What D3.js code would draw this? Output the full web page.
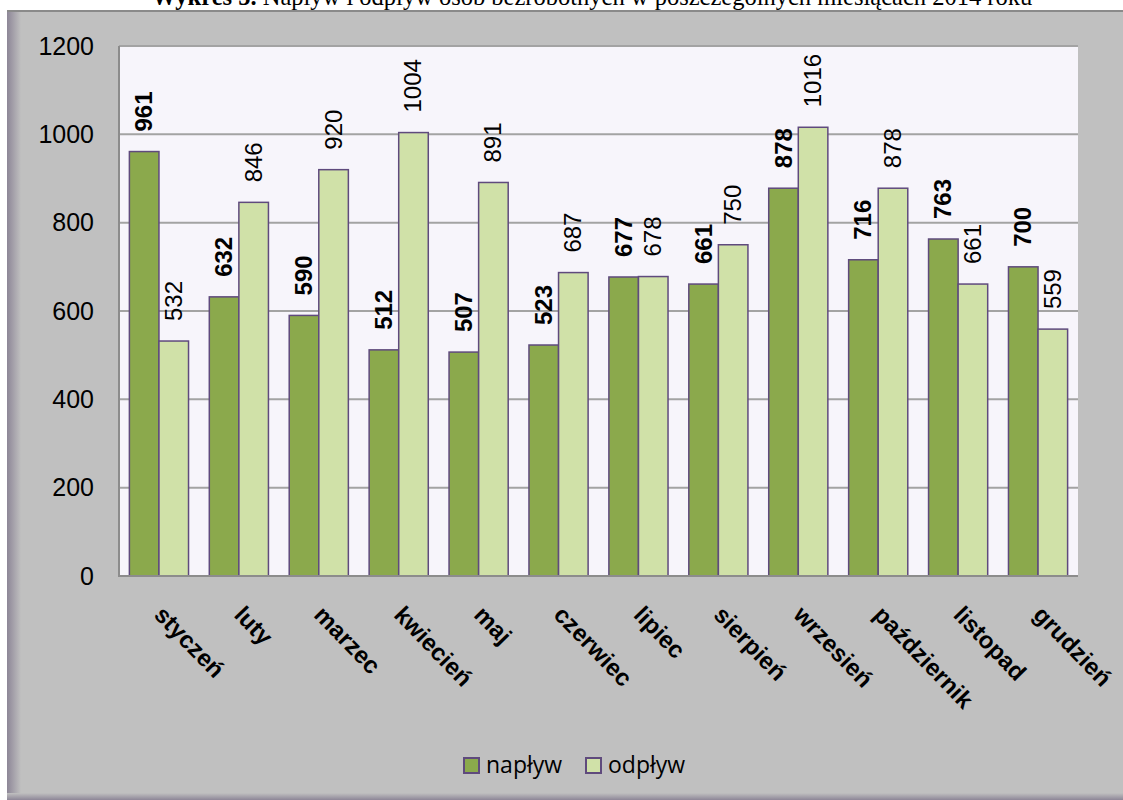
<!DOCTYPE html>
<html>
<head>
<meta charset="utf-8">
<script src="https://cdn.jsdelivr.net/npm/d3@7"></script>
<style>
  body { margin: 0; background: #fff; }
  svg text { font-family: "Liberation Sans Narrow", "Arial Narrow", "Liberation Sans", Arial, sans-serif; }
</style>
</head>
<body>
<svg id="chart" width="1123" height="800"></svg>
<script>
// data
var months = ["styczeń", "luty", "marzec", "kwiecień", "maj", "czerwiec",
              "lipiec", "sierpień", "wrzesień", "październik", "listopad", "grudzień"];
var naplyw = [961, 632, 590, 512, 507, 523, 677, 661, 878, 716, 763, 700];
var odplyw = [532, 846, 920, 1004, 891, 687, 678, 750, 1016, 878, 661, 559];
var seriesNames = ["napływ", "odpływ"];
var yTicks = [0, 200, 400, 600, 800, 1000, 1200];

var colors = { "napływ": "#8ba94c", "odpływ": "#d0e1a8" };
var barStroke = "#5f4a7d";

var svg = d3.select("#chart");
var W = 1123, H = 800;
var plot = { left: 119, right: 1078, top: 46, bottom: 576 };

var defs = svg.append("defs");
var gl = defs.append("linearGradient").attr("id", "shadeL").attr("x1", 0).attr("x2", 1).attr("y1", 0).attr("y2", 0);
gl.append("stop").attr("offset", 0).attr("stop-color", "#8d8697");
gl.append("stop").attr("offset", 1).attr("stop-color", "#c0c0c0");
var gb = defs.append("linearGradient").attr("id", "shadeB").attr("x1", 0).attr("x2", 0).attr("y1", 0).attr("y2", 1);
gb.append("stop").attr("offset", 0).attr("stop-color", "#c0c0c0");
gb.append("stop").attr("offset", 1).attr("stop-color", "#8d8697");

// title (cut off at top in the original)
var title = svg.append("text")
  .attr("x", 592).attr("y", 5)
  .attr("text-anchor", "middle")
  .style("font-family", "'Liberation Serif', 'Times New Roman', serif")
  .style("font-size", "24.5px");
title.append("tspan").style("font-weight", "bold").text("Wykres 5.");
title.append("tspan").text(" Napływ i odpływ osób bezrobotnych w poszczególnych miesiącach 2014 roku");

// outer frame
svg.append("rect").attr("x", 7).attr("y", 10).attr("width", W - 7).attr("height", H - 10).attr("fill", "#c0c0c0");
svg.append("rect").attr("x", 7).attr("y", 10).attr("width", 14).attr("height", H - 10).attr("fill", "url(#shadeL)");
svg.append("rect").attr("x", 7).attr("y", H - 7).attr("width", W - 7).attr("height", 7).attr("fill", "url(#shadeB)");
svg.append("line").attr("x1", 7).attr("x2", W).attr("y1", 11).attr("y2", 11)
  .attr("stroke", "#8a8a8a").attr("stroke-width", 2);

// scales
var x0 = d3.scaleBand().domain(months).range([plot.left, plot.right])
  .paddingInner(0.26).paddingOuter(0.13);
var x1 = d3.scaleBand().domain(seriesNames).range([0, x0.bandwidth()]);
var y = d3.scaleLinear().domain([0, 1200]).range([plot.bottom, plot.top]);

// plot area
svg.append("rect").attr("x", plot.left).attr("y", plot.top)
  .attr("width", plot.right - plot.left).attr("height", plot.bottom - plot.top)
  .attr("fill", "#f7f5fb");

// gridlines
svg.append("g").selectAll("line").data(yTicks.filter(function(d) { return d > 0; }))
  .join("line")
  .attr("x1", plot.left).attr("x2", plot.right)
  .attr("y1", function(d) { return y(d); }).attr("y2", function(d) { return y(d); })
  .attr("stroke", "#a3a3a3").attr("stroke-width", 2);

// y axis
var yAxis = svg.append("g").attr("transform", "translate(" + plot.left + ",0)")
  .call(d3.axisLeft(y).tickValues(yTicks).tickFormat(d3.format("d")).tickSize(0).tickPadding(25));
yAxis.select(".domain").remove();
yAxis.selectAll("text").style("font-size", "25px").attr("fill", "#000")
  .style("font-family", "'Liberation Sans Narrow', 'Arial Narrow', 'Liberation Sans', sans-serif");

// bars
var rows = months.map(function(m, i) {
  return { month: m, values: [
    { name: "napływ", value: naplyw[i] },
    { name: "odpływ", value: odplyw[i] } ] };
});

var groups = svg.append("g").selectAll("g").data(rows).join("g")
  .attr("transform", function(d) { return "translate(" + x0(d.month) + ",0)"; });

groups.selectAll("rect").data(function(d) { return d.values; }).join("rect")
  .attr("x", function(d) { return x1(d.name); })
  .attr("y", function(d) { return y(d.value); })
  .attr("width", x1.bandwidth())
  .attr("height", function(d) { return y(0) - y(d.value); })
  .attr("fill", function(d) { return colors[d.name]; })
  .attr("stroke", barStroke).attr("stroke-width", 1.5);

// value labels, rotated
groups.selectAll("text.val").data(function(d) { return d.values; }).join("text")
  .attr("class", "val")
  .attr("transform", function(d) {
    return "translate(" + (x1(d.name) + x1.bandwidth() / 2 + 8) + "," + (y(d.value) - 20) + ") rotate(-90)";
  })
  .attr("text-anchor", "start")
  .style("font-size", "24px")
  .style("font-weight", function(d) { return d.name === "napływ" ? "bold" : "normal"; })
  .text(function(d) { return d.value; });

// axis lines
svg.append("line").attr("x1", plot.left).attr("x2", plot.left).attr("y1", plot.top).attr("y2", plot.bottom + 1)
  .attr("stroke", "#8c8c8c").attr("stroke-width", 2);
svg.append("line").attr("x1", plot.left).attr("x2", plot.right).attr("y1", plot.bottom).attr("y2", plot.bottom)
  .attr("stroke", "#8c8c8c").attr("stroke-width", 2);

// x labels
svg.append("g").selectAll("text").data(months).join("text")
  .attr("transform", function(d) {
    return "translate(" + (x0(d) + x0.bandwidth() / 2 - 6) + ",616) rotate(46)";
  })
  .attr("text-anchor", "start")
  .style("font-size", "24px")
  .style("font-weight", "bold")
  .text(function(d) { return d; });

// legend
var legend = svg.append("g").selectAll("g").data(seriesNames).join("g")
  .attr("transform", function(d, i) { return "translate(" + (464 + i * 122) + ",758)"; });
legend.append("rect").attr("width", 15).attr("height", 15)
  .attr("fill", function(d) { return colors[d]; })
  .attr("stroke", barStroke).attr("stroke-width", 2);
legend.append("text").attr("x", 22).attr("y", 15)
  .style("font-family", "'Open Sans', 'Noto Sans', sans-serif")
  .style("font-size", "23px")
  .text(function(d) { return d; });
</script>
</body>
</html>
